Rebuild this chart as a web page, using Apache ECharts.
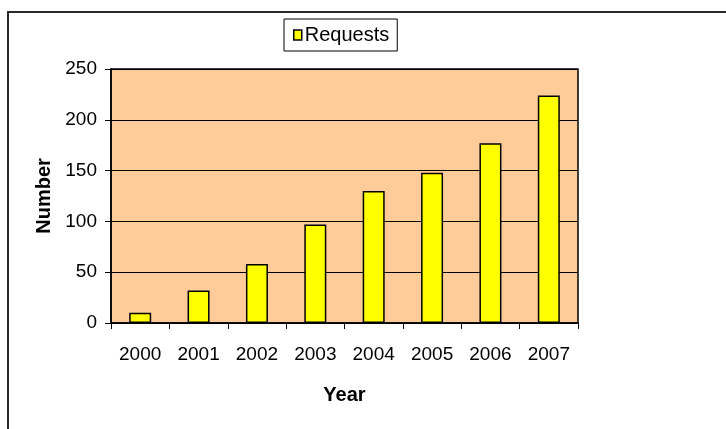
<!DOCTYPE html>
<html>
<head>
<meta charset="utf-8">
<script src="https://cdn.jsdelivr.net/npm/echarts@6/dist/echarts.min.js"></script>
<style>
  html, body { margin: 0; padding: 0; background: #ffffff; }
  #chart { width: 726px; height: 429px; }
</style>
</head>
<body>
<div id="chart"></div>
<script>
// Yearly request counts
const years = ['2000', '2001', '2002', '2003', '2004', '2005', '2006', '2007'];
const requests = [10, 32, 58, 97, 130, 148, 177, 224];
const seriesName = 'Requests';
const xTitle = 'Year';
const yTitle = 'Number';

const FONT = '"Liberation Sans", Arial, sans-serif';

const chart = echarts.init(document.getElementById('chart'), null, { renderer: 'canvas' });

chart.setOption({
  animation: false,
  backgroundColor: '#ffffff',
  textStyle: { fontFamily: FONT },
  graphic: [
    {
      // outer frame running off the right and bottom edges
      type: 'rect',
      shape: { x: 8, y: 12, width: 900, height: 600 },
      style: { fill: 'none', stroke: '#2a2a2a', lineWidth: 2 },
      silent: true,
      z: 0
    }
  ],
  legend: {
    left: 284,
    top: 19,
    padding: [6, 8, 6, 9],
    borderColor: '#000',
    borderWidth: 1,
    backgroundColor: '#ffffff',
    itemWidth: 8,
    itemHeight: 10,
    icon: 'rect',
    itemStyle: { color: '#ffff00', borderColor: '#000', borderWidth: 1.5 },
    textStyle: { fontSize: 20, color: '#000', fontFamily: FONT, padding: [0, 0, 0, -2] },
    data: [seriesName]
  },
  grid: {
    left: 111,
    top: 69,
    width: 467,
    height: 254,
    show: true,
    backgroundColor: '#ffcc99',
    borderColor: '#000',
    borderWidth: 1.5,
    containLabel: false
  },
  xAxis: {
    type: 'category',
    data: years,
    boundaryGap: true,
    name: xTitle,
    nameLocation: 'middle',
    nameGap: 62,
    nameTextStyle: { fontSize: 20, fontWeight: 'bold', color: '#000', fontFamily: FONT },
    axisLine: { show: true, lineStyle: { color: '#000', width: 1.5 } },
    axisTick: { show: true, alignWithLabel: false, length: 6, lineStyle: { color: '#000', width: 1 } },
    axisLabel: { fontSize: 19, color: '#000', margin: 22, fontFamily: FONT },
    splitLine: { show: false }
  },
  yAxis: {
    type: 'value',
    min: 0,
    max: 250,
    interval: 50,
    name: yTitle,
    nameLocation: 'middle',
    nameGap: 56,
    nameRotate: 90,
    nameTextStyle: { fontSize: 20, fontWeight: 'bold', color: '#000', fontFamily: FONT },
    axisLine: { show: true, lineStyle: { color: '#000', width: 1.5 } },
    axisTick: { show: true, length: 6, lineStyle: { color: '#000', width: 1 } },
    axisLabel: { fontSize: 19, color: '#000', margin: 14, fontFamily: FONT },
    splitLine: { show: true, lineStyle: { color: '#000', width: 1 } }
  },
  series: [
    {
      name: seriesName,
      type: 'bar',
      data: requests,
      barWidth: 22,
      itemStyle: { color: '#ffff00', borderColor: '#000', borderWidth: 1.5 }
    }
  ]
});
</script>
</body>
</html>
